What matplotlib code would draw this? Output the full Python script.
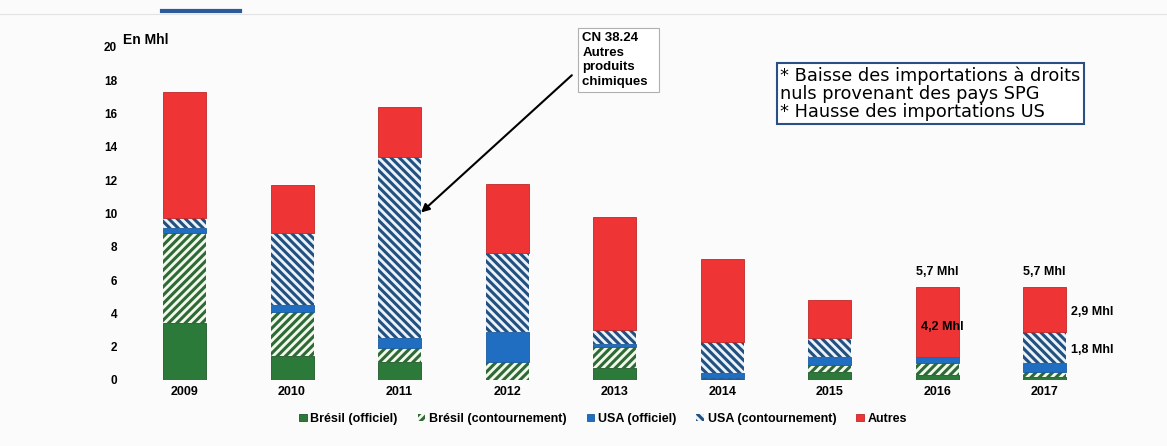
import numpy as np
import matplotlib
matplotlib.use("Agg")
import matplotlib.pyplot as plt
from matplotlib.lines import Line2D

plt.rcParams['font.family'] = ['Liberation Sans', 'DejaVu Sans']
plt.rcParams['hatch.linewidth'] = 2.2

# data (Mhl)
years = ['2009', '2010', '2011', '2012', '2013', '2014', '2015', '2016', '2017']
bresil_off = [3.45, 1.45, 1.1, 0.0, 0.7, 0.05, 0.5, 0.3, 0.2]
bresil_cont = [5.35, 2.65, 0.8, 1.1, 1.3, 0.05, 0.4, 0.7, 0.3]
usa_off = [0.3, 0.4, 0.6, 1.8, 0.15, 0.35, 0.5, 0.4, 0.5]
usa_cont = [0.65, 4.3, 10.87, 4.72, 0.85, 1.85, 1.1, 0.0, 1.9]
autres = [7.55, 2.9, 3.0, 4.16, 6.8, 4.98, 2.33, 4.2, 2.7]
series_names = ['Brésil (officiel)', 'Brésil (contournement)', 'USA (officiel)',
                'USA (contournement)', 'Autres']

W, H = 1167, 446
fig = plt.figure(figsize=(W / 100, H / 100), dpi=100, facecolor='#fbfbfb')
ax = fig.add_axes([120 / W, (H - 380) / H, 1000 / W, 333.3 / H])
ax.set_facecolor('#fbfbfb')

x = np.arange(len(years))
bw = 0.4
green = '#2c7a3a'
blue = '#1f6ec2'
red = '#ee3434'

bottom = np.zeros(len(years))
b1 = ax.bar(x, bresil_off, bw, bottom=bottom, color=green, edgecolor='#1f5a2a', linewidth=0.6)
bottom += bresil_off
b2 = ax.bar(x, bresil_cont, bw, bottom=bottom, color='#f2f8ec', edgecolor='#2f6a36',
            linewidth=0, hatch='////')
bottom += bresil_cont
b3 = ax.bar(x, usa_off, bw, bottom=bottom, color=blue, edgecolor='#1a5aa0', linewidth=0.6)
bottom += usa_off
b4 = ax.bar(x, usa_cont, bw, bottom=bottom, color='#eaf2fa', edgecolor='#23507e',
            linewidth=0, hatch='\\\\\\\\')
bottom += usa_cont
b5 = ax.bar(x, autres, bw, bottom=bottom, color=red, edgecolor='#c02828', linewidth=0.6)

ax.set_xlim(-0.6, 8.7)
ax.set_ylim(0, 20)
ax.set_yticks(range(0, 21, 2))
ax.set_xticks(x)
ax.set_xticklabels(years, fontweight='bold', fontsize=9)
ax.tick_params(axis='y', labelsize=8.5, length=0, pad=2)
ax.tick_params(axis='x', length=0, pad=4)
for lab in ax.get_yticklabels():
    lab.set_fontweight('bold')
for s in ax.spines.values():
    s.set_visible(False)

ax.text(0.003, 1.0, 'En Mhl', transform=ax.transAxes, fontsize=10, fontweight='bold',
        va='bottom', ha='left')

# annotation CN 38.24
ax.annotate('CN 38.24\nAutres\nproduits\nchimiques  ', xy=(2.2, 10.05), xytext=(3.7, 19.2),
            fontsize=9.5, fontweight='bold', ha='left', va='center', linespacing=1.3,
            bbox=dict(boxstyle='square,pad=0.3', fc='white', ec='#b0b0b0', lw=0.8),
            arrowprops=dict(arrowstyle='-|>', color='black', lw=1.5, mutation_scale=12,
                            shrinkA=6, shrinkB=0, relpos=(0, 0.4)))

# text box
ax.text(5.54, 17.2, '* Baisse des importations à droits\nnuls provenant des pays SPG\n'
        '* Hausse des importations US', fontsize=12.8, family='DejaVu Sans',
        ha='left', va='center', linespacing=1.0,
        bbox=dict(boxstyle='square,pad=0.2', fc='white', ec='#2a4f86', lw=1.5))

# value labels
tot = bottom + np.array(autres)
for i in (7, 8):
    ax.text(x[i], tot[i] + 0.5, '5,7 Mhl', ha='center', va='bottom', fontsize=9,
            fontweight='bold')
ax.text(x[7] + 0.05, 3.2, '4,2 Mhl', ha='center', va='center', fontsize=9,
        fontweight='bold')
ax.text(x[8] + 0.24, 4.1, '2,9 Mhl', ha='left', va='center', fontsize=9, fontweight='bold')
ax.text(x[8] + 0.24, 1.8, '1,8 Mhl', ha='left', va='center', fontsize=9, fontweight='bold')

leg = ax.legend([b1, b2, b3, b4, b5], series_names, loc='upper center',
                bbox_to_anchor=(0.483, -0.065), ncol=5, frameon=False, fontsize=9,
                handlelength=0.6, handleheight=0.6, handletextpad=0.3, columnspacing=1.6)
for t in leg.get_texts():
    t.set_fontweight('bold')

# cropped strip at the very top
fig.add_artist(Line2D([162 / W, 240 / W], [1 - 11 / H, 1 - 11 / H], color='#2a5a9a', lw=3))
fig.add_artist(Line2D([0, 1], [1 - 14 / H, 1 - 14 / H], color='#e2e2e2', lw=0.8))

fig.savefig('out.png', dpi=100, facecolor=fig.get_facecolor())
